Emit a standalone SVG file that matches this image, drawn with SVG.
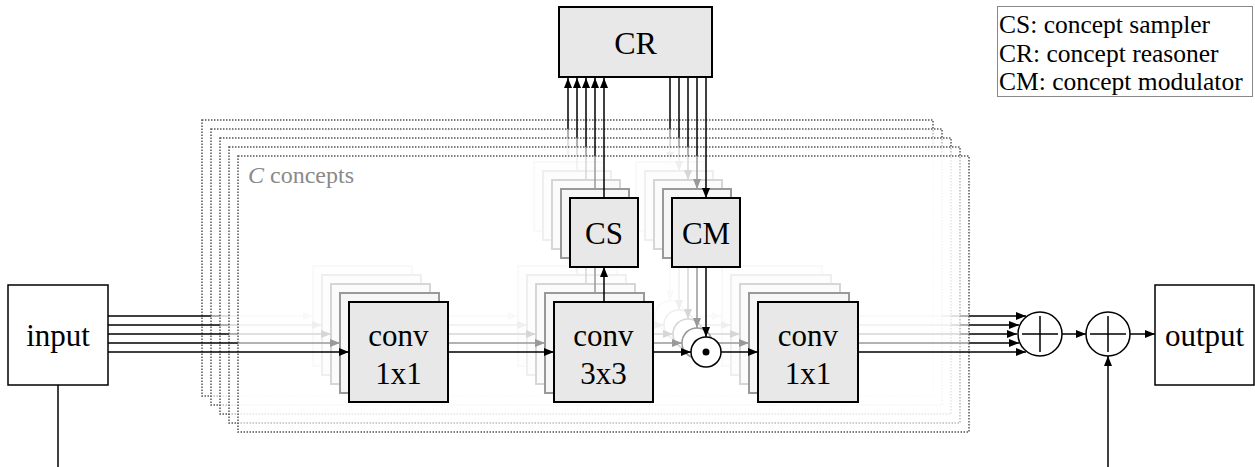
<svg xmlns="http://www.w3.org/2000/svg" width="1255" height="467" viewBox="0 0 1255 467">
  <defs>
    <style>
      .frame { fill: #ffffff; fill-opacity: 0.6; stroke: #555; stroke-width: 1.5; stroke-dasharray: 1.5 1.5; }
      .box { fill: #e8e8e8; stroke: #000; stroke-width: 2; }
      .plain { fill: #ffffff; stroke: #000; stroke-width: 1.5; }
      .wire { fill: none; stroke: #000; stroke-width: 1.5; }
      .arr { marker-end: url(#ah); }
      text { font-family: 'Liberation Serif', 'DejaVu Serif', serif; }
      .lbl { font-size: 31px; text-anchor: middle; fill: #000; }
      .big { font-size: 32px; }
      .note { font-size: 25.5px; fill: #000; }
      .tag { font-size: 24px; fill: #8a8a8a; }
    </style>
    <marker id="ah" viewBox="0 0 10 8" refX="10" refY="4" markerWidth="10" markerHeight="8" markerUnits="userSpaceOnUse" orient="auto">
      <path d="M0,0 L10,4 L0,8 z" fill="#000"/>
    </marker>
    <!-- one concept layer (shapes only), placed in front-layer coordinates -->
    <g id="layer-body">
      <rect class="frame" x="238" y="156" width="731" height="276"/>
      <rect class="box" x="349" y="302" width="99" height="100"/>
      <rect class="box" x="554" y="302" width="99" height="100"/>
      <rect class="box" x="570" y="198" width="68" height="69"/>
      <rect class="box" x="672" y="198" width="68" height="69"/>
      <rect class="box" x="758" y="302" width="100" height="100"/>
      <circle class="plain" cx="706" cy="352" r="15"/>
      <circle cx="706" cy="352" r="3.5" fill="#000"/>
      <path class="wire arr" d="M448,352 H554"/>
      <path class="wire arr" d="M653,352 H691"/>
      <path class="wire arr" d="M721,352 H758"/>
      <path class="wire arr" d="M604,302 V267"/>
      <path class="wire arr" d="M706,267 V337"/>
    </g>
  </defs>

  <rect width="1255" height="467" fill="#ffffff"/>

  <!-- stacked concept layers, back to front -->
  <g id="layer-0">
    <use href="#layer-body" transform="translate(-36,-36)"/>
    <g class="connectors">
      <path class="wire arr" d="M108,316 H313"/>
      <path class="wire arr" d="M568,162 V78"/>
      <path class="wire arr" d="M670,78 V162"/>
      <path class="wire arr" d="M822,316 H1026"/>
    </g>
  </g>
  <g id="layer-1">
    <use href="#layer-body" transform="translate(-27,-27)"/>
    <g class="connectors">
      <path class="wire arr" d="M108,325 H322"/>
      <path class="wire arr" d="M577,171 V78"/>
      <path class="wire arr" d="M679,78 V171"/>
      <path class="wire arr" d="M831,325 H1019"/>
    </g>
  </g>
  <g id="layer-2">
    <use href="#layer-body" transform="translate(-18,-18)"/>
    <g class="connectors">
      <path class="wire arr" d="M108,334 H331"/>
      <path class="wire arr" d="M586,180 V78"/>
      <path class="wire arr" d="M688,78 V180"/>
      <path class="wire arr" d="M840,334 H1017"/>
    </g>
  </g>
  <g id="layer-3">
    <use href="#layer-body" transform="translate(-9,-9)"/>
    <g class="connectors">
      <path class="wire arr" d="M108,343 H340"/>
      <path class="wire arr" d="M595,189 V78"/>
      <path class="wire arr" d="M697,78 V189"/>
      <path class="wire arr" d="M849,343 H1019"/>
    </g>
  </g>

  <!-- front layer -->
  <g id="layer-4">
    <rect class="frame" x="238" y="156" width="731" height="276"/>
    <text class="tag" x="248" y="183"><tspan font-style="italic">C</tspan> concepts</text>

    <g id="conv1x1-in">
      <rect class="box" x="349" y="302" width="99" height="100"/>
      <text class="lbl" x="398.5" y="346">conv</text>
      <text class="lbl" x="398.5" y="384">1x1</text>
    </g>
    <g id="conv3x3">
      <rect class="box" x="554" y="302" width="99" height="100"/>
      <text class="lbl" x="603.5" y="346">conv</text>
      <text class="lbl" x="603.5" y="384">3x3</text>
    </g>
    <g id="cs">
      <rect class="box" x="570" y="198" width="68" height="69"/>
      <text class="lbl" x="604" y="244">CS</text>
    </g>
    <g id="cm">
      <rect class="box" x="672" y="198" width="68" height="69"/>
      <text class="lbl" x="706" y="244">CM</text>
    </g>
    <g id="modulate">
      <circle class="plain" cx="706" cy="352" r="15"/>
      <circle cx="706" cy="352" r="3.5" fill="#000"/>
    </g>
    <g id="conv1x1-out">
      <rect class="box" x="758" y="302" width="100" height="100"/>
      <text class="lbl" x="808" y="346">conv</text>
      <text class="lbl" x="808" y="384">1x1</text>
    </g>
    <g class="connectors">
      <path class="wire arr" d="M448,352 H554"/>
      <path class="wire arr" d="M653,352 H691"/>
      <path class="wire arr" d="M721,352 H758"/>
      <path class="wire arr" d="M604,302 V267"/>
      <path class="wire arr" d="M706,267 V337"/>
      <path class="wire arr" d="M108,352 H349"/>
      <path class="wire arr" d="M604,198 V78"/>
      <path class="wire arr" d="M706,78 V198"/>
      <path class="wire arr" d="M858,352 H1026"/>
    </g>
  </g>

  <!-- main path connectors -->
  <g id="connectors">
    <path class="wire" d="M58,385 V467"/>
    <path class="wire arr" d="M1062,334 H1086"/>
    <path class="wire arr" d="M1130,334 H1155"/>
    <path class="wire arr" d="M1108,467 V356"/>
  </g>

  <g id="cr">
    <rect class="box" x="559" y="7" width="153" height="70"/>
    <text class="lbl big" x="635.5" y="54">CR</text>
  </g>

  <g id="input">
    <rect class="plain" x="8" y="285" width="100" height="100"/>
    <text class="lbl" x="58" y="346">input</text>
  </g>

  <g id="sum-concepts">
    <circle class="plain" cx="1040" cy="334" r="22"/>
    <path class="wire" d="M1022,334 H1058 M1040,316 V352"/>
  </g>

  <g id="sum-residual">
    <circle class="plain" cx="1108" cy="334" r="22"/>
    <path class="wire" d="M1090,334 H1126 M1108,316 V352"/>
  </g>

  <g id="output">
    <rect class="plain" x="1155" y="285" width="99" height="100"/>
    <text class="lbl" x="1204.5" y="346">output</text>
  </g>

  <g id="legend">
    <rect x="997.5" y="6.5" width="255" height="90" fill="#ffffff" stroke="#888" stroke-width="1"/>
    <text class="note" x="999" y="33">CS: concept sampler</text>
    <text class="note" x="999" y="62">CR: concept reasoner</text>
    <text class="note" x="999" y="90">CM: concept modulator</text>
  </g>
</svg>
